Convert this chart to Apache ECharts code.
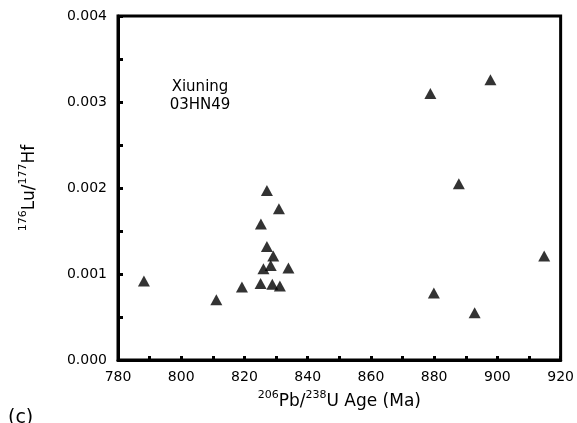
<!DOCTYPE html>
<html>
<head>
<meta charset="utf-8">
<script src="https://cdn.jsdelivr.net/npm/echarts@6/dist/echarts.min.js"></script>
<style>
html,body{margin:0;padding:0;background:#fff;}
#c{width:577px;height:423px;}
</style>
</head>
<body>
<div id="c"></div>
<script>
// Data (206Pb/238U age in Ma, 176Lu/177Hf)
const ages = [788.2, 811.1, 819.2, 825.1, 825.2, 826.0, 827.1, 827.1, 828.3, 828.8, 829.1, 830.9, 831.2, 833.9, 878.8, 879.9, 887.8, 892.8, 897.8, 914.8];
const luHf = [0.00092, 0.00070, 0.00085, 0.00089, 0.00158, 0.00106, 0.00197, 0.00132, 0.00110, 0.00088, 0.00121, 0.00176, 0.00086, 0.00107, 0.00310, 0.00078, 0.00205, 0.00055, 0.00326, 0.00121];
const xTicks = [780, 800, 820, 840, 860, 880, 900, 920];
const yTicks = ['0.000', '0.001', '0.002', '0.003', '0.004'];
const sampleLabel = ['Xiuning', '03HN49'];
const panelLabel = '(c)';

const FONT = 'DejaVu Sans';
const points = ages.map((a, i) => [a, luHf[i]]);

const chart = echarts.init(document.getElementById('c'), null, {renderer: 'canvas'});
chart.setOption({
  animation: false,
  backgroundColor: '#fff',
  grid: {left: 118, right: 14, top: 16, bottom: 63, show: true, borderColor: '#000', borderWidth: 3, backgroundColor: 'transparent'},
  xAxis: {
    type: 'value', min: xTicks[0], max: xTicks[xTicks.length - 1], interval: 20,
    axisLine: {show: true, onZero: false, lineStyle: {color: '#000', width: 3}},
    axisTick: {show: true, inside: true, length: 4, lineStyle: {color: '#000', width: 3}},
    minorTick: {show: true, splitNumber: 2, length: 4, lineStyle: {color: '#000', width: 3}},
    splitLine: {show: false},
    axisLabel: {color: '#000', fontFamily: FONT, fontSize: 14, margin: 10},
    name: '{sup|206}{n|Pb/}{sup|238}{n|U Age (Ma)}',
    nameLocation: 'middle', nameGap: 30,
    nameTextStyle: {
      color: '#000', fontFamily: FONT,
      rich: {
        n: {fontFamily: FONT, fontSize: 17, color: '#000', verticalAlign: 'bottom', lineHeight: 20},
        sup: {fontFamily: FONT, fontSize: 11, color: '#000', verticalAlign: 'top', lineHeight: 20, padding: [0, 0, 8, 0]}
      }
    }
  },
  yAxis: {
    type: 'value', min: 0, max: 0.004, interval: 0.001,
    axisLine: {show: true, onZero: false, lineStyle: {color: '#000', width: 3}},
    axisTick: {show: true, inside: true, length: 5, lineStyle: {color: '#000', width: 3}},
    minorTick: {show: true, splitNumber: 2, length: 5, lineStyle: {color: '#000', width: 3}},
    splitLine: {show: false},
    axisLabel: {color: '#000', fontFamily: FONT, fontSize: 14, margin: 11,
      formatter: v => yTicks[Math.round(v / 0.001)] ?? v.toFixed(3)},
    name: '{sup|176}{n|Lu/}{sup|177}{n|Hf}',
    nameLocation: 'middle', nameGap: 80, nameRotate: 90,
    nameTextStyle: {
      color: '#000', fontFamily: FONT,
      rich: {
        n: {fontFamily: FONT, fontSize: 17, color: '#000', verticalAlign: 'bottom', lineHeight: 20},
        sup: {fontFamily: FONT, fontSize: 11, color: '#000', verticalAlign: 'top', lineHeight: 20, padding: [0, 0, 8, 0]}
      }
    }
  },
  graphic: [
    {type: 'text', x: 200, y: 78, style: {text: sampleLabel.join('\n'), fill: '#000', font: '15px "DejaVu Sans"', align: 'center', verticalAlign: 'top', lineHeight: 18}},
    {type: 'text', x: 8, y: 409, style: {text: panelLabel, fill: '#000', font: '19px "DejaVu Sans"', verticalAlign: 'top'}}
  ],
  series: [{
    type: 'scatter',
    data: points,
    symbol: 'triangle',
    symbolSize: [12, 11],
    itemStyle: {color: '#000'}
  }]
});
</script>
</body>
</html>
